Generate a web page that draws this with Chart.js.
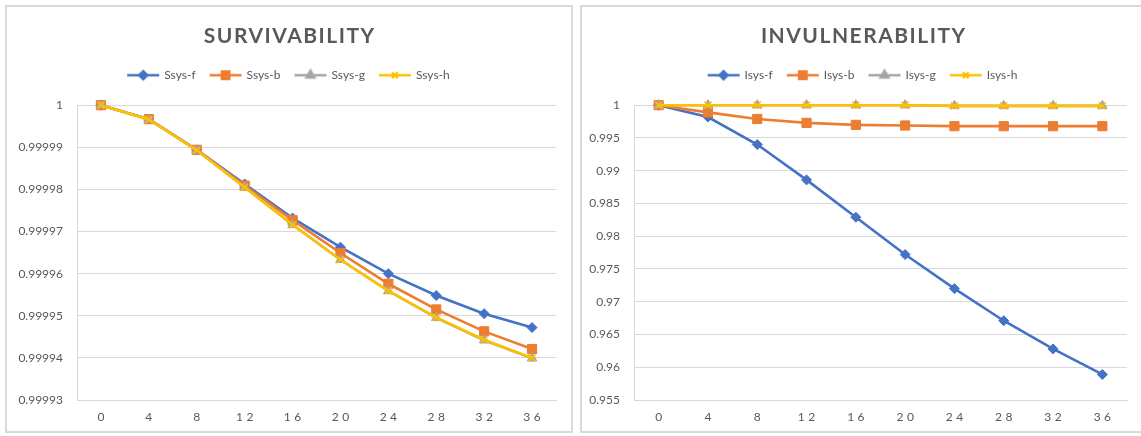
<!DOCTYPE html>
<html>
<head>
<meta charset="utf-8">
<script src="https://cdn.jsdelivr.net/npm/chart.js@4/dist/chart.umd.min.js"></script>
<style>
  html, body { margin: 0; padding: 0; background: #fff; width: 1141px; height: 436px; overflow: hidden; }
  .panel { position: absolute; top: 5px; height: 424px; border: 2px solid #d9d9d9; background: #fff; }
  #p1 { left: 5px; width: 564px; }
  #p2 { left: 580px; width: 562px; }
  canvas { display: block; }
</style>
</head>
<body>
<div class="panel" id="p1"><canvas id="survChart" width="564" height="424"></canvas></div>
<div class="panel" id="p2"><canvas id="invulChart" width="562" height="424"></canvas></div>
<script>
// time steps on the horizontal axis
const hours = ['0', '4', '8', '12', '16', '20', '24', '28', '32', '36'];

// survivability series
const ssysF = [1, 0.9999967, 0.9999894, 0.9999813, 0.9999732, 0.9999663, 0.9999600, 0.9999548, 0.9999505, 0.9999472];
const ssysB = [1, 0.9999967, 0.9999894, 0.9999809, 0.9999727, 0.9999649, 0.9999576, 0.9999515, 0.9999463, 0.9999421];
const ssysG = [1, 0.9999966, 0.9999893, 0.9999805, 0.9999716, 0.9999633, 0.9999559, 0.9999495, 0.9999442, 0.9999399];
const ssysH = [1, 0.9999966, 0.9999893, 0.9999805, 0.9999716, 0.9999633, 0.9999559, 0.9999496, 0.9999443, 0.9999400];

// invulnerability series
const isysF = [1, 0.9982, 0.9940, 0.9886, 0.9829, 0.9772, 0.9720, 0.9671, 0.9628, 0.9589];
const isysB = [1, 0.9989, 0.9979, 0.9973, 0.9970, 0.9969, 0.9968, 0.9968, 0.9968, 0.9968];
const isysG = [1, 1, 1, 1, 1, 1, 0.9999, 0.9999, 0.9999, 0.9999];
const isysH = [1, 1, 1, 1, 1, 1, 0.9999, 0.9999, 0.9999, 0.9999];

const TEXT = '#595959';
const GRID = '#d9d9d9';
const FONT = 'Lato, "Open Sans", sans-serif';

const STYLES = {
  f: { color: '#4472C4', point: 'rectRot',  radius: 5,   borderWidth: 1 },
  b: { color: '#ED7D31', point: 'rect',     radius: 6.5, borderWidth: 1 },
  g: { color: '#A5A5A5', point: 'triangle', radius: 5.5, borderWidth: 1 },
  h: { color: '#FFC000', point: 'crossRot', radius: 5,   borderWidth: 1.6 }
};

// small line-with-marker swatch used as the legend symbol
function legendSwatch(s) {
  const c = document.createElement('canvas');
  c.width = 34; c.height = 14;
  const ctx = c.getContext('2d');
  ctx.strokeStyle = s.color;
  ctx.lineWidth = 2.5;
  ctx.beginPath(); ctx.moveTo(1, 7); ctx.lineTo(33, 7); ctx.stroke();
  ctx.fillStyle = s.color;
  ctx.strokeStyle = s.color;
  Chart.helpers.drawPoint(ctx, {
    pointStyle: s.point, radius: s.radius * 0.8, borderWidth: s.borderWidth, rotation: 0
  }, 17, 7);
  return c;
}

function series(label, data, key, order) {
  const s = STYLES[key];
  return {
    label, data, order,
    yAxisID: 'y',
    borderColor: s.color,
    backgroundColor: s.color,
    borderWidth: 2.6,
    pointStyle: s.point,
    pointRadius: s.radius,
    pointHoverRadius: s.radius,
    pointBackgroundColor: s.color,
    pointBorderColor: s.color,
    pointBorderWidth: s.borderWidth,
    tension: 0,
    clip: false,
    swatch: legendSwatch(s)
  };
}

// spaced lettering for the title and category labels
const spacing = {
  id: 'spacing',
  afterInit(chart) {
    const wrap = (obj, fn, px) => {
      const orig = obj[fn];
      obj[fn] = function (...args) {
        const ctx = this.ctx;
        ctx.save();
        ctx.letterSpacing = px + 'px';
        ctx.translate(px / 2, 0);
        orig.apply(this, args);
        ctx.restore();
      };
    };
    if (chart.titleBlock) wrap(chart.titleBlock, 'draw', 1.5);
    chart._wrapX = wrap;
  },
  beforeDraw(chart) {
    const x = chart.scales.x;
    if (x && !x._spaced) { chart._wrapX(x, 'drawLabels', 3.5); x._spaced = true; }
  }
};

function buildChart(id, title, sets, yMin, yMax, step, decimals, yWidth, rightGap) {
  return new Chart(document.getElementById(id), {
    type: 'line',
    data: { labels: hours, datasets: sets },
    plugins: [spacing],
    options: {
      responsive: false,
      animation: false,
      devicePixelRatio: 1,
      layout: { padding: 0 },
      plugins: {
        title: {
          display: true, text: title, color: TEXT,
          font: { family: FONT, size: 21, weight: 'bold', lineHeight: 1.2 },
          padding: { top: 17, bottom: 5 }
        },
        subtitle: {
          display: true, text: '', weight: 500,
          font: { size: 10, lineHeight: 1 }, padding: { top: 2, bottom: 2 }
        },
        legend: {
          display: true, position: 'top', weight: 1000,
          labels: {
            color: TEXT, font: { family: FONT, size: 12 },
            usePointStyle: true, pointStyleWidth: 30, padding: 15,
            sort: (a, b) => a.datasetIndex - b.datasetIndex,
            generateLabels(chart) {
              return chart.data.datasets.map((ds, i) => ({
                text: ds.label, datasetIndex: i, pointStyle: ds.swatch,
                fillStyle: ds.borderColor, strokeStyle: ds.borderColor,
                fontColor: TEXT, lineWidth: 0, hidden: false
              }));
            }
          }
        },
        tooltip: { enabled: false }
      },
      scales: {
        x: {
          type: 'category', offset: true,
          grid: { display: false },
          border: { display: true, color: GRID, width: 1 },
          ticks: { color: TEXT, font: { family: FONT, size: 12 }, padding: 2, maxRotation: 0 },
          afterFit(s) { s.height = 31; }
        },
        y: {
          min: yMin, max: yMax,
          grid: { color: GRID, lineWidth: 1, drawTicks: false },
          border: { display: true, color: GRID, width: 1 },
          ticks: {
            stepSize: step, color: TEXT, font: { family: FONT, size: 12 }, padding: 14,
            callback: (v) => String(+Number(v).toFixed(decimals))
          },
          afterFit(s) { s.width = yWidth; }
        },
        // empty margin on the right side of the plot
        gap: {
          position: 'right',
          grid: { display: false, drawTicks: false },
          border: { display: false },
          ticks: { display: false },
          afterFit(s) { s.width = rightGap; }
        }
      }
    }
  });
}

buildChart('survChart', 'SURVIVABILITY', [
  series('Ssys-f', ssysF, 'f', 3),
  series('Ssys-b', ssysB, 'b', 2),
  series('Ssys-g', ssysG, 'g', 1),
  series('Ssys-h', ssysH, 'h', 0)
], 0.99993, 1, 0.00001, 5, 70, 15);

buildChart('invulChart', 'INVULNERABILITY', [
  series('Isys-f', isysF, 'f', 3),
  series('Isys-b', isysB, 'b', 2),
  series('Isys-g', isysG, 'g', 1),
  series('Isys-h', isysH, 'h', 0)
], 0.955, 1, 0.005, 3, 52, 17);
</script>
</body>
</html>
